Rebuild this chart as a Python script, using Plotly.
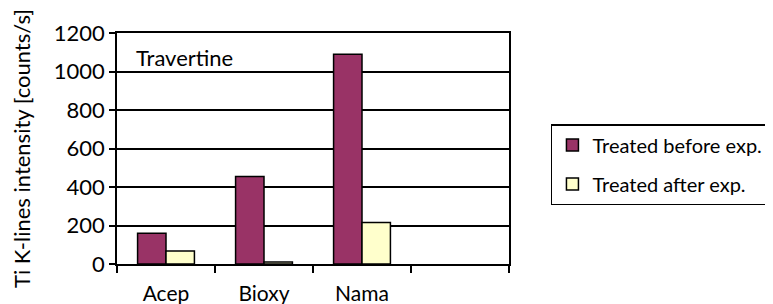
import plotly.graph_objects as go

categories = ["Acep", "Bioxy", "Nama", " "]
before_exp = [160, 455, 1090, None]
after_exp = [67, 10, 215, None]
series_names = ["Treated before exp.", "Treated after exp."]
y_ticks = [0, 200, 400, 600, 800, 1000, 1200]

FONT = "Lato, 'DejaVu Sans', sans-serif"

fig = go.Figure()
fig.add_trace(go.Bar(x=categories, y=before_exp, name=series_names[0],
                     marker=dict(color="#993366", line=dict(color="black", width=1.5)),
                     legendgroup="a"))
fig.add_trace(go.Bar(x=categories, y=after_exp, name=series_names[1],
                     marker=dict(color="#FFFFCC", line=dict(color="black", width=1.5)),
                     legendgroup="b"))

# page body has an 8px margin, so the figure is drawn from (8, 8)
fig.update_layout(
    width=765, height=296,
    margin=dict(l=109, r=264, t=25, b=40, autoexpand=False),
    paper_bgcolor="white", plot_bgcolor="white",
    font=dict(family=FONT, size=21, color="black"),
    barmode="group", bargap=0.42, bargroupgap=0,
    showlegend=True,
    legend=dict(x=1.107, y=0.606, xanchor="left", yanchor="top",
                bordercolor="black", borderwidth=1.5,
                font=dict(size=20), tracegroupgap=10,
                itemwidth=30),
    annotations=[dict(text="Travertine", x=0.043, y=0.892, xref="paper", yref="paper",
                      xanchor="left", yanchor="middle", showarrow=False,
                      font=dict(size=22))],
)
fig.update_xaxes(type="category", categoryorder="array", categoryarray=categories,
                 showline=True, linecolor="black", linewidth=2, mirror=True,
                 ticks="outside", tickson="boundaries", ticklen=7, tickcolor="black", tickwidth=1.5,
                 ticklabelstandoff=10, showgrid=False, automargin=False,
                 tickfont=dict(size=21))
fig.update_yaxes(range=[0, 1200], tickvals=y_ticks,
                 showline=True, linecolor="black", linewidth=1.5, mirror=True,
                 ticks="outside", ticklen=6, tickcolor="black", tickwidth=1.5,
                 showgrid=True, gridcolor="black", gridwidth=1.5, zeroline=False,
                 automargin=False, tickfont=dict(size=22),
                 title=dict(text="Ti K-lines intensity [counts/s]", standoff=22, font=dict(size=22)))

fig.write_html("out.html")
